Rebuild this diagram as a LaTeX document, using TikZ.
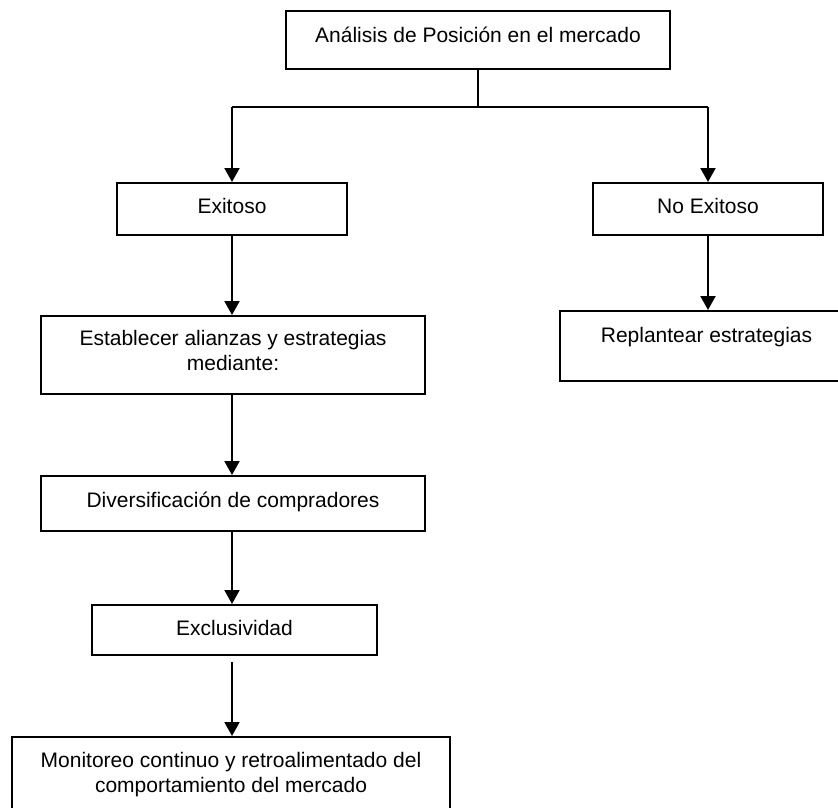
\documentclass[tikz,border=0pt]{standalone}
\usepackage{fontspec}
\setmainfont{Liberation Sans}
\usetikzlibrary{arrows.meta}
\begin{document}
\begin{tikzpicture}[x=1pt,y=-1pt,
  box/.style={draw=black, line width=2pt, inner sep=0pt, fill=white},
  txt/.style={inner sep=0pt, align=center, font=\fontsize{21}{25}\selectfont},
  conn/.style={draw=black, line width=2pt},
  arr/.style={conn, -{Triangle[width=15pt,length=14pt]}}]
\useasboundingbox (0,0) rectangle (838,808);
% boxes
\node[box, minimum width=384pt, minimum height=58pt] (top) at (478,40) {};
\node[box, minimum width=230pt, minimum height=52pt] (exi) at (232,209) {};
\node[box, minimum width=230pt, minimum height=52pt] (noexi) at (708,209) {};
\node[box, minimum width=384pt, minimum height=78pt] (est) at (233,355) {};
\node[box, minimum width=293pt, minimum height=70pt] (rep) at (706.5,346) {};
\node[box, minimum width=384pt, minimum height=55pt] (div) at (233,503.5) {};
\node[box, minimum width=285pt, minimum height=50pt] (excl) at (234.5,630) {};
\node[box, minimum width=438pt, minimum height=78pt] (mon) at (231,776) {};
% texts
\node[txt, anchor=base] (ttop) at (478,43) {Análisis de Posición en el mercado};
\node[txt, anchor=base] (texi) at (232,213) {Exitoso};
\node[txt, anchor=base] (tnoexi) at (708,213) {No Exitoso};
\node[txt, anchor=base] (test) at (233,370) {Establecer alianzas y estrategias\\mediante:};
\node[txt, anchor=base] (trep) at (706.5,342) {Replantear estrategias};
\node[txt, anchor=base] (tdiv) at (233,507) {Diversificación de compradores};
\node[txt, anchor=base] (texcl) at (234.5,635) {Exclusividad};
\node[txt, anchor=base] (tmon) at (231,792) {Monitoreo continuo y retroalimentado del\\comportamiento del mercado};
% connectors
\coordinate (hl) at (232,107);
\coordinate (hr) at (708,107);
\draw[conn] (top.south) -- (top.south |- hl);
\draw[conn] (hl) -- (hr);
\draw[arr] (hl) -- (exi.north);
\draw[arr] (hr) -- (noexi.north);
\draw[arr] (exi.south) -- (exi.south |- est.north);
\draw[arr] (noexi.south) -- (noexi.south |- rep.north);
\draw[arr] (exi.south |- est.south) -- (exi.south |- div.north);
\draw[arr] (exi.south |- div.south) -- (exi.south |- excl.north);
\draw[arr] ([yshift=-6pt]exi.south |- excl.south) -- (exi.south |- mon.north);
\end{tikzpicture}
\end{document}
